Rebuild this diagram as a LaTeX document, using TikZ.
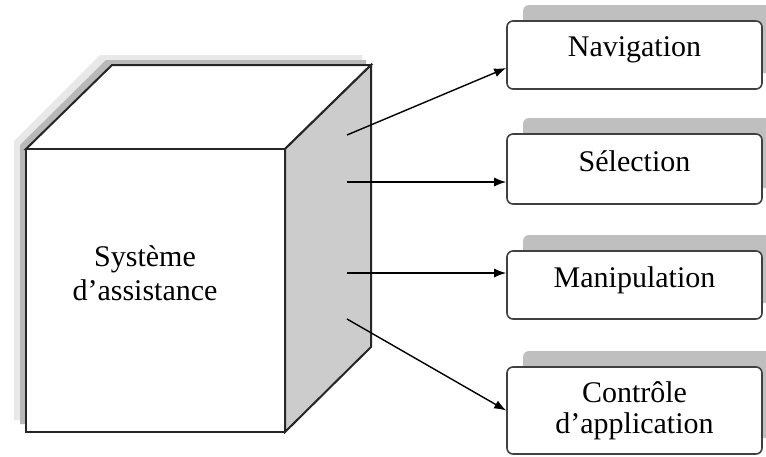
\documentclass[tikz,border=0pt]{standalone}
\usepackage{fontspec}
\setmainfont{Liberation Serif}
\usepackage{tikz}
\usetikzlibrary{arrows.meta,backgrounds,calc,shadows}

\tikzset{
  cubeline/.style={draw=black!85,line width=1pt,line join=miter},
  taskbox/.style={draw=black!75,line width=0.8pt,fill=white,rounded corners=3pt,
    minimum width=127.5pt,align=center,
    drop shadow={shadow xshift=8pt,shadow yshift=8pt,fill=gray!50,opacity=1}},
  link/.style={-{Latex[length=6pt,width=4.5pt]},line width=0.7pt}
}

\begin{document}
\begin{tikzpicture}[x=0.5pt,y=-0.5pt,font=\fontsize{15}{17}\selectfont]
\clip (0,0) rectangle (766,456);
\fill[white] (0,0) rectangle (766,456);

% schatten des wuerfels
\fill[gray!18] (14,420) -- (14,141) -- (100,55) -- (362,55) -- (362,63) -- (112,63) -- (26,149) -- (26,420) -- cycle;
\fill[gray!55] (20,424) -- (20,145) -- (106,60) -- (366,60) -- (366,65) -- (112,65) -- (26,149) -- (26,424) -- cycle;

% wuerfel
\filldraw[cubeline,fill=white] (26,149) -- (112,65) -- (371,65) -- (285,149) -- cycle;
\filldraw[cubeline,fill=gray!40] (285,149) -- (371,65) -- (371,347) -- (285,432) -- cycle;
\filldraw[cubeline,fill=white] (26,149) rectangle (285,432);
\node[align=center,font=\fontsize{15}{17}\selectfont] (sys) at (145,273) {Système\\d’assistance};

\coordinate (p1) at (347,135);
\coordinate (p2) at (347,182);
\coordinate (p3) at (347,273);
\coordinate (p4) at (347,319);

% aufgaben
\node[taskbox,minimum height=34pt,text depth=8pt] (nav) at (634.5,55) {Navigation};
\node[taskbox,minimum height=35pt,text depth=8pt] (sel) at (634.5,169) {Sélection};
\node[taskbox,minimum height=34pt,text depth=8pt] (manip) at (634.5,285) {Manipulation};
\node[taskbox,minimum height=43.5pt,font=\fontsize{15}{15.5}\selectfont] (ctrl) at (634.5,410.5) {Contrôle\\d’application};

\draw[link] (p1) -- ([yshift=-6.5pt]nav.west);
\draw[link] (p2) -- ([yshift=-6.5pt]sel.west);
\draw[link] (p3) -- ([yshift=6pt]manip.west);
\draw[link] (p4) -- (ctrl.west);
\end{tikzpicture}
\end{document}
